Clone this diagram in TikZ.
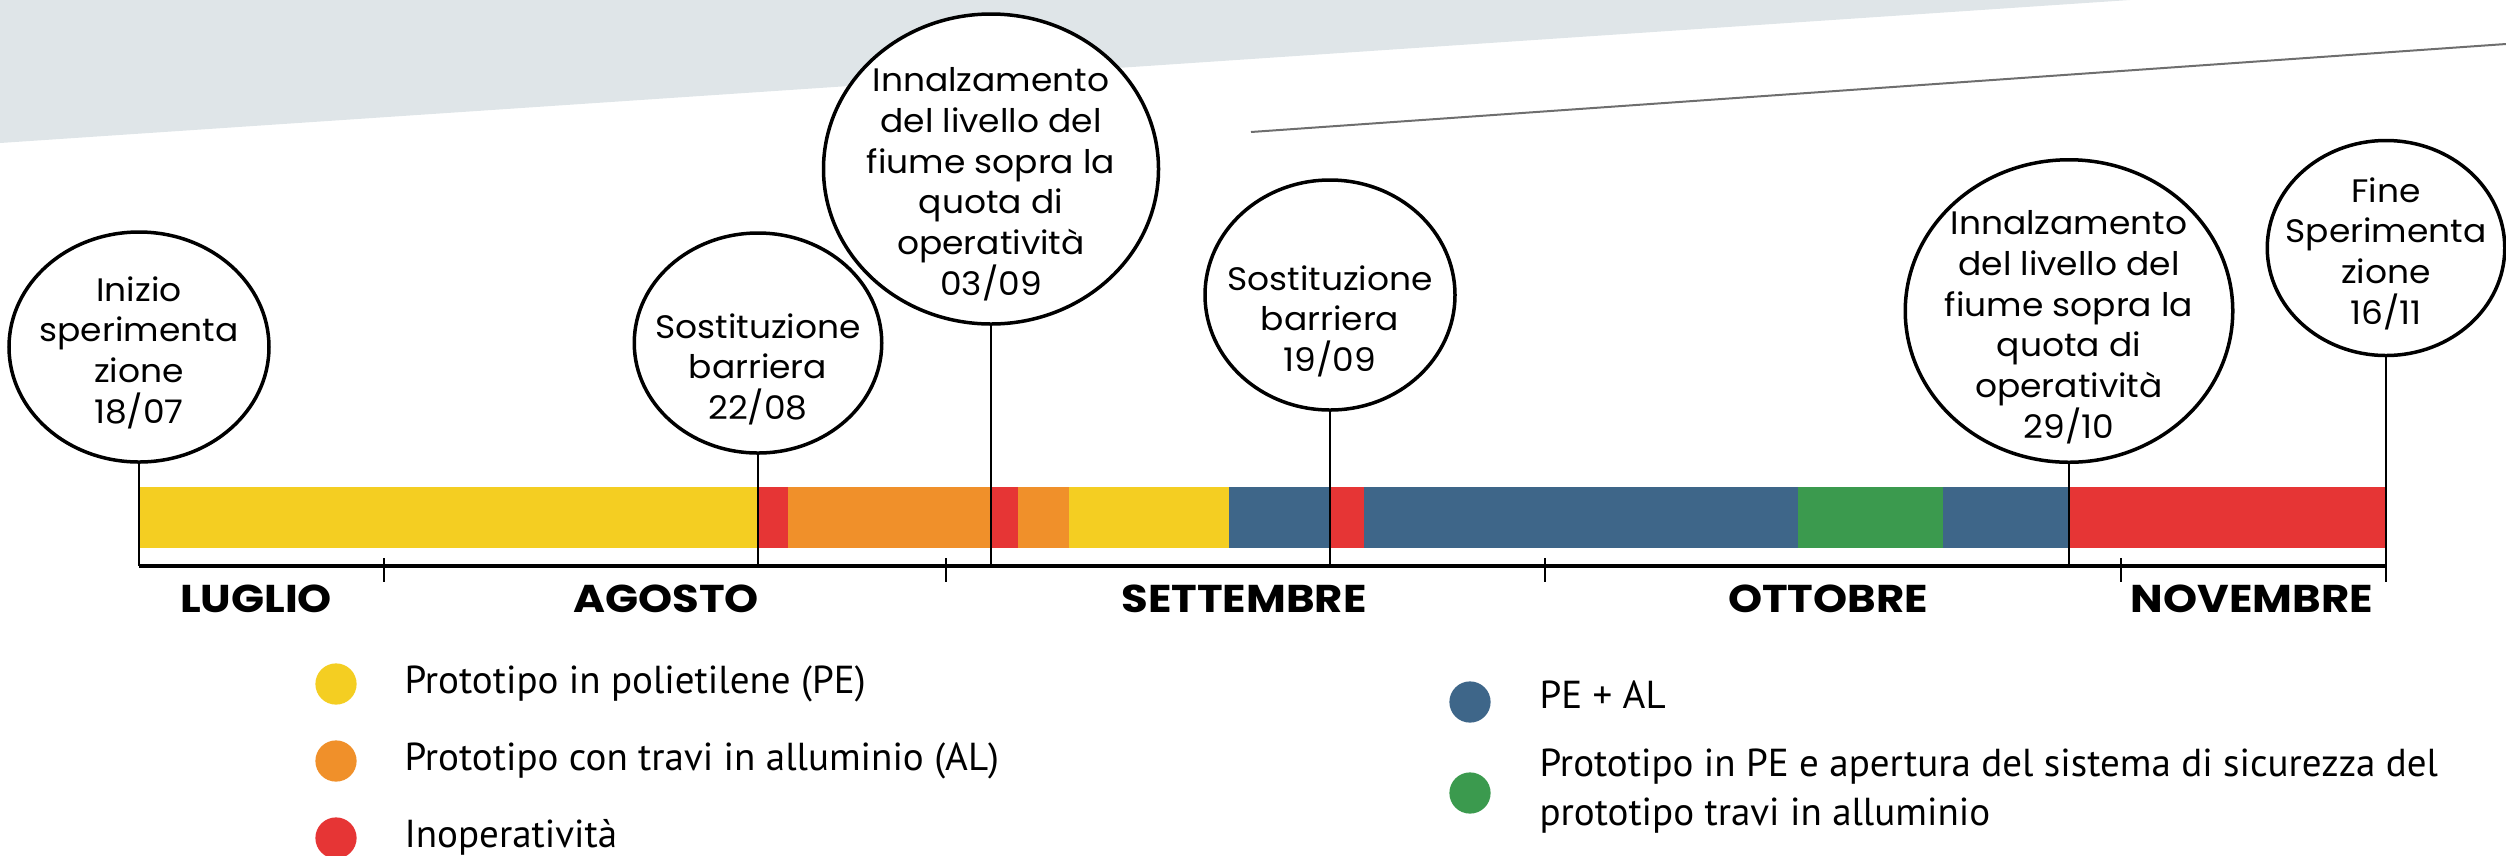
\documentclass[tikz,border=0pt]{standalone}
\usepackage{fontspec}
\setmainfont{PT Sans}
\newfontfamily\pop{Poppins}[FakeStretch=1.06]
\newfontfamily\popm{Poppins}[FakeStretch=1.12]
\usetikzlibrary{shapes.geometric}
\definecolor{cyel}{HTML}{F4CE22}
\definecolor{cora}{HTML}{F0902A}
\definecolor{cred}{HTML}{E63535}
\definecolor{cblu}{HTML}{3E6689}
\definecolor{cgre}{HTML}{3B9A4E}
\definecolor{cbg}{HTML}{DFE5E8}
\definecolor{cline}{HTML}{6E6E6E}
\tikzset{
  ev/.style={ellipse,draw=black,line width=1.4pt,fill=white,inner sep=0pt},
  evtxt/.style={anchor=north,align=center,inner sep=0pt,font=\pop\fontsize{13}{16.3}\selectfont},
  stem/.style={line width=1pt,draw=black},
  month/.style={anchor=base,inner sep=0pt,font=\popm\bfseries\fontsize{15.5}{18}\selectfont},
  legdot/.style={circle,inner sep=0pt,minimum size=16.5pt},
  legtxt/.style={anchor=base west,inner sep=0pt,font=\fontsize{15.6}{19.6}\selectfont},
}
\begin{document}
\begin{tikzpicture}[x=0.4pt,y=-0.4pt]
\useasboundingbox (0,0) rectangle (2506,855);
% background band
\fill[cbg] (0,0) -- (0,143) -- (2130,0) -- cycle;
\draw[cline,line width=0.8pt] (1251,132) -- (2506,44);
% bar segments
\def\bt{487}\def\bb{548}
\foreach \a/\b/\c in {139/757/cyel,757/788/cred,788/991/cora,991/1018/cred,1018/1069/cora,1069/1229/cyel,1229/1330/cblu,1330/1364/cred,1364/1798/cblu,1798/1943/cgre,1943/2069/cblu,2069/2386/cred}
  \fill[\c] (\a,\bt) rectangle (\b,\bb);
% axis
\coordinate (axL) at (139,566);
\coordinate (axR) at (2386,566);
\draw[line width=1.5pt] (axL) -- (axR);
\foreach \x/\n in {384/a,946/b,1545/c,2121/d}{
  \coordinate (tk\n t) at (\x,558);
  \coordinate (tk\n b) at (\x,582);
  \draw[line width=1pt] (tk\n t) -- (tk\n b);
}
% events
\node[ev,minimum width=104pt,minimum height=92pt] (e1) at (139,347) {};
\node[ev,minimum width=99pt,minimum height=88pt] (e2) at (758,343) {};
\node[ev,minimum width=134pt,minimum height=124pt] (e3) at (991,169) {};
\node[ev,minimum width=100pt,minimum height=92pt] (e4) at (1330,295) {};
\node[ev,minimum width=131pt,minimum height=121pt] (e5) at (2069,311) {};
\node[ev,minimum width=95pt,minimum height=86pt] (e6) at (2386,248) {};
\node[evtxt] (t1) at (139,276) {Inizio\\sperimenta\\zione\\18/07};
\node[evtxt] (t2) at (758,313) {Sostituzione\\barriera\\22/08};
\node[evtxt] (t3) at (991,67) {Innalzamento\\del livello del\\fiume sopra la\\quota di\\operatività\\03/09};
\node[evtxt] (t4) at (1330,265) {Sostituzione\\barriera\\19/09};
\node[evtxt] (t5) at (2069,210) {Innalzamento\\del livello del\\fiume sopra la\\quota di\\operatività\\29/10};
\node[evtxt] (t6) at (2386,177) {Fine\\Sperimenta\\zione\\16/11};
\draw[stem] (e1.south) -- (e1.south |- axL);
\draw[stem] (e2.south) -- (e2.south |- axL);
\draw[stem] (e3.south) -- (e3.south |- axL);
\draw[stem] (e4.south) -- (e4.south |- axL);
\draw[stem] (e5.south) -- (e5.south |- axL);
\draw[stem] (e6.south) -- (e6.south |- tkab);
% months
\node[month] (m1) at (256,612) {LUGLIO};
\node[month] (m2) at (666,612) {AGOSTO};
\node[month] (m3) at (1244,612) {SETTEMBRE};
\node[month] (m4) at (1828,612) {OTTOBRE};
\node[month] (m5) at (2252,612) {NOVEMBRE};
% legend
\node[legdot,fill=cyel] (d1) at (336,684) {};
\node[legdot,fill=cora] (d2) at (336,761) {};
\node[legdot,fill=cred] (d3) at (336,838) {};
\node[legdot,fill=cblu] (d4) at (1470,702) {};
\node[legdot,fill=cgre] (d5) at (1470,793) {};
\node[legtxt] (l1) at (404,693) {Prototipo in polietilene (PE)};
\node[legtxt] (l2) at (404,770) {Prototipo con travi in alluminio (AL)};
\node[legtxt] (l3) at (404,847) {Inoperatività};
\node[legtxt] (l4) at (1539,708) {PE + AL};
\node[legtxt,align=left,anchor=north west] (l5) at (1539,748) {Prototipo in PE e apertura del sistema di sicurezza del\\prototipo travi in alluminio};
\end{tikzpicture}
\end{document}
